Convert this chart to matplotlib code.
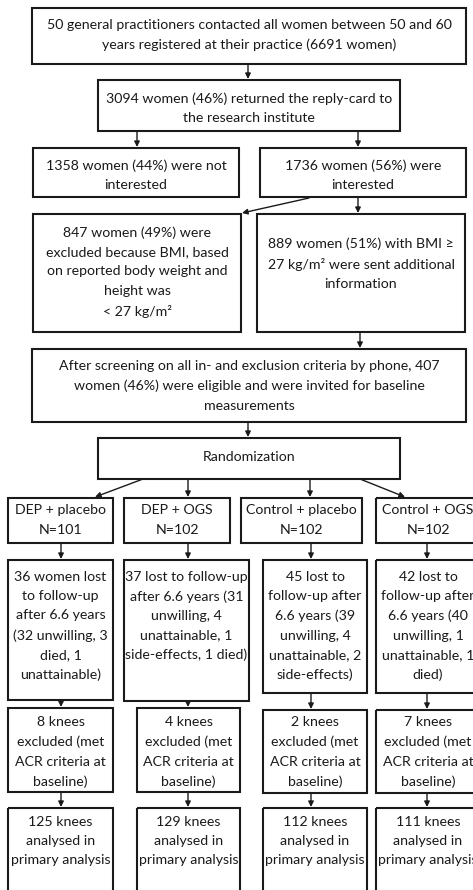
import matplotlib
matplotlib.use("Agg")
import matplotlib.pyplot as plt
from matplotlib.patches import Rectangle

# ---- text content ----
top_texts = [
    "50 general practitioners contacted all women between 50 and 60\nyears registered at their practice (6691 women)",
    "3094 women (46%) returned the reply-card to\nthe research institute",
    "1358 women (44%) were not\ninterested",
    "1736 women (56%) were\ninterested",
    "847 women (49%) were\nexcluded because BMI, based\non reported body weight and\nheight was\n< 27 kg/m²",
    "889 women (51%) with BMI ≥\n27 kg/m² were sent additional\ninformation",
    "After screening on all in- and exclusion criteria by phone, 407\nwomen (46%) were eligible and were invited for baseline\nmeasurements",
    "Randomization",
]
group_names = ["DEP + placebo", "DEP + OGS", "Control + placebo", "Control + OGS"]
group_n = [101, 102, 102, 102]
lost_texts = [
    "36 women lost\nto follow-up\nafter 6.6 years\n(32 unwilling, 3\ndied, 1\nunattainable)",
    "37 lost to follow-up\nafter 6.6 years (31\nunwilling, 4\nunattainable, 1\nside-effects, 1 died)",
    "45 lost to\nfollow-up after\n6.6 years (39\nunwilling, 4\nunattainable, 2\nside-effects)",
    "42 lost to\nfollow-up after\n6.6 years (40\nunwilling, 1\nunattainable, 1\ndied)",
]
knees_excluded = [8, 4, 2, 7]
knees_analysed = [125, 129, 112, 111]

# ---- layout (pixels) ----
W, H = 473, 890
fig = plt.figure(figsize=(W / 100, H / 100), dpi=100)
ax = fig.add_axes([0, 0, 1, 1])
ax.set_xlim(0, W)
ax.set_ylim(H, 0)
ax.axis("off")

FONT = ["Lato", "DejaVu Sans"]
FS = 10.2
LS = 1.72
EC = "#1a1a1a"
LW = 1.5


def box(x0, y0, x1, y1, text, ty=None):
    ax.add_patch(Rectangle((x0, y0), x1 - x0, y1 - y0, fill=False,
                           edgecolor=EC, lw=LW, clip_on=True))
    if ty is None:
        ty = (y0 + y1) / 2
    tx = (x0 + x1) / 2 if x1 <= W else x0 + 52
    ax.text(tx, ty, text,
            ha="center", va="center", multialignment="center",
            fontsize=FS, family=FONT, linespacing=LS, color="#1a1a1a")


def arrow(x0, y0, x1, y1):
    ax.annotate("", xy=(x1, y1), xytext=(x0, y0),
                arrowprops=dict(arrowstyle="-|>", color=EC, lw=1.0,
                                mutation_scale=8, shrinkA=0, shrinkB=0))


# top section
box(32, 8, 466, 64, top_texts[0], 35)
arrow(248, 64, 248, 79)
box(98, 80, 400, 131, top_texts[1], 108)
arrow(137, 131, 137, 147)
arrow(358, 131, 358, 147)
box(33, 148, 239, 197, top_texts[2], 175)
box(260, 148, 466, 197, top_texts[3], 175)
arrow(309, 198, 242, 213)
arrow(358, 197, 358, 213)
box(33, 214, 241, 332, top_texts[4], 272)
box(257, 214, 465, 332, top_texts[5], 264)
arrow(360, 332, 360, 348)
box(32, 349, 466, 422, top_texts[6], 386)
arrow(248, 422, 248, 437)
box(98, 438, 400, 479, top_texts[7], 457)

# randomization arrows
arrow(143, 479, 95, 497)
arrow(188, 479, 188, 497)
arrow(310, 479, 310, 497)
arrow(360, 479, 405, 497)

# columns
grp_x = [(8, 113), (124, 230), (241, 362), (376, 490)]
lost_x = [(8, 113), (124, 249), (263, 367), (376, 490)]
lost_y = [(560, 700), (560, 701), (560, 693), (560, 693)]
lost_ty = [626, 616, 626, 626]
excl_x = [(8, 113), (137, 240), (263, 367), (376, 490)]
excl_y = [(708, 792), (708, 792), (710, 793), (710, 793)]
col_arrow_x = [61, 188, 311, 427]

for i in range(4):
    gx0, gx1 = grp_x[i]
    box(gx0, 498, gx1, 543, f"{group_names[i]}\nN={group_n[i]}", 520)
    ax_ = col_arrow_x[i]
    arrow(ax_, 543, ax_, 559)
    lx0, lx1 = lost_x[i]
    ly0, ly1 = lost_y[i]
    box(lx0, ly0, lx1, ly1, lost_texts[i], lost_ty[i])
    ey0, ey1 = excl_y[i]
    arrow(ax_, ly1, ax_, ey0 - 1)
    ex0, ex1 = excl_x[i]
    box(ex0, ey0, ex1, ey1,
        f"{knees_excluded[i]} knees\nexcluded (met\nACR criteria at\nbaseline)", 752)
    arrow(ax_, ey1, ax_, 807)
    box(ex0, 808, ex1, 905,
        f"{knees_analysed[i]} knees\nanalysed in\nprimary analysis", 841)

fig.savefig("out.png", dpi=100, facecolor="white")
